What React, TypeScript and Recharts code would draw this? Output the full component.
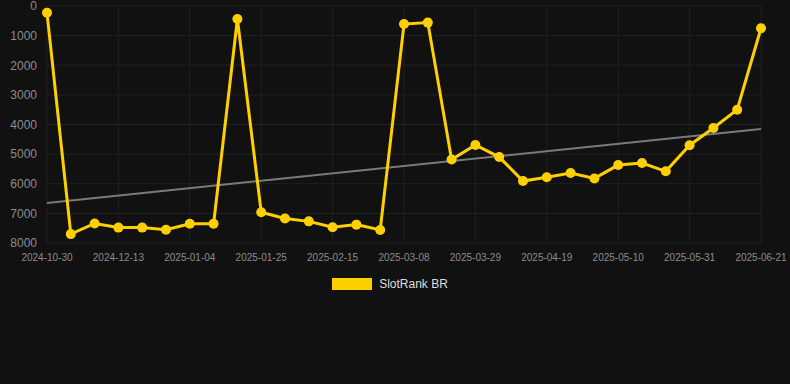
import { CartesianGrid, Legend, Line, LineChart, XAxis, YAxis } from 'recharts';

const WIDTH = 790;
const HEIGHT = 384;
const BG = '#111111';
const GRID_COLOR = '#212121';
const AXIS_TEXT = '#8c8c8c';
const LINE_COLOR = '#ffd000';
const TREND_COLOR = '#7a7a7a';
const FONT = "Helvetica, Arial, 'Liberation Sans', sans-serif";

const dates = [
  '2024-10-30', '2024-11-14', '2024-11-28', '2024-12-13', '2024-12-20', '2024-12-27',
  '2025-01-04', '2025-01-11', '2025-01-18', '2025-01-25', '2025-02-01', '2025-02-08',
  '2025-02-15', '2025-02-22', '2025-03-01', '2025-03-08', '2025-03-15', '2025-03-22',
  '2025-03-29', '2025-04-05', '2025-04-12', '2025-04-19', '2025-04-26', '2025-05-03',
  '2025-05-10', '2025-05-17', '2025-05-24', '2025-05-31', '2025-06-07', '2025-06-14',
  '2025-06-21',
];

const rank = [
  230, 7700, 7340, 7480, 7480, 7550,
  7350, 7350, 440, 6960, 7170, 7270,
  7470, 7380, 7560, 610, 560, 5180,
  4690, 5100, 5910, 5780, 5640, 5820,
  5370, 5300, 5580, 4700, 4120, 3500,
  750,
];

// trend line endpoints
const trendStart = 6650;
const trendEnd = 4150;

const xTicks = [
  '2024-10-30', '2024-12-13', '2025-01-04', '2025-01-25', '2025-02-15', '2025-03-08',
  '2025-03-29', '2025-04-19', '2025-05-10', '2025-05-31', '2025-06-21',
];
const yTicks = [0, 1000, 2000, 3000, 4000, 5000, 6000, 7000, 8000];

const data = dates.map((date, i) => ({
  date,
  rank: rank[i],
  trend: i === 0 ? trendStart : i === dates.length - 1 ? trendEnd : null,
}));

function LegendContent() {
  return (
    <div
      style={{
        display: 'flex',
        justifyContent: 'center',
        alignItems: 'center',
        fontFamily: FONT,
        paddingRight: 10,
      }}
    >
      <span
        style={{
          display: 'inline-block',
          width: 40,
          height: 12,
          background: LINE_COLOR,
          marginRight: 7,
        }}
      />
      <span style={{ color: '#dddddd', fontSize: 12 }}>SlotRank BR</span>
    </div>
  );
}

export default function App() {
  return (
    <div style={{ position: 'fixed', left: 0, top: 0, width: WIDTH, height: HEIGHT, background: BG }}>
      <LineChart
        width={WIDTH}
        height={HEIGHT}
        data={data}
        margin={{ top: 6, right: 29, left: 0, bottom: 111 }}
      >
        <CartesianGrid stroke={GRID_COLOR} />
        <XAxis
          dataKey="date"
          ticks={xTicks}
          interval={0}
          height={30}
          tickSize={0}
          tickMargin={11}
          axisLine={false}
          tickLine={false}
          tick={{ fill: AXIS_TEXT, fontSize: 10, fontFamily: FONT }}
        />
        <YAxis
          width={47}
          reversed
          domain={[0, 8000]}
          ticks={yTicks}
          interval={0}
          tickSize={0}
          tickMargin={10}
          axisLine={false}
          tickLine={false}
          tick={{ fill: AXIS_TEXT, fontSize: 12, fontFamily: FONT }}
        />
        <Legend
          layout="horizontal"
          verticalAlign="middle"
          align="center"
          wrapperStyle={{ top: 277, left: 0, width: WIDTH }}
          content={<LegendContent />}
        />
        <Line
          dataKey="trend"
          stroke={TREND_COLOR}
          strokeWidth={2}
          dot={false}
          activeDot={false}
          connectNulls
          isAnimationActive={false}
          legendType="none"
        />
        <Line
          dataKey="rank"
          stroke={LINE_COLOR}
          strokeWidth={3}
          dot={{ r: 5, fill: LINE_COLOR, stroke: LINE_COLOR, strokeWidth: 0 }}
          activeDot={false}
          isAnimationActive={false}
        />
      </LineChart>
    </div>
  );
}
